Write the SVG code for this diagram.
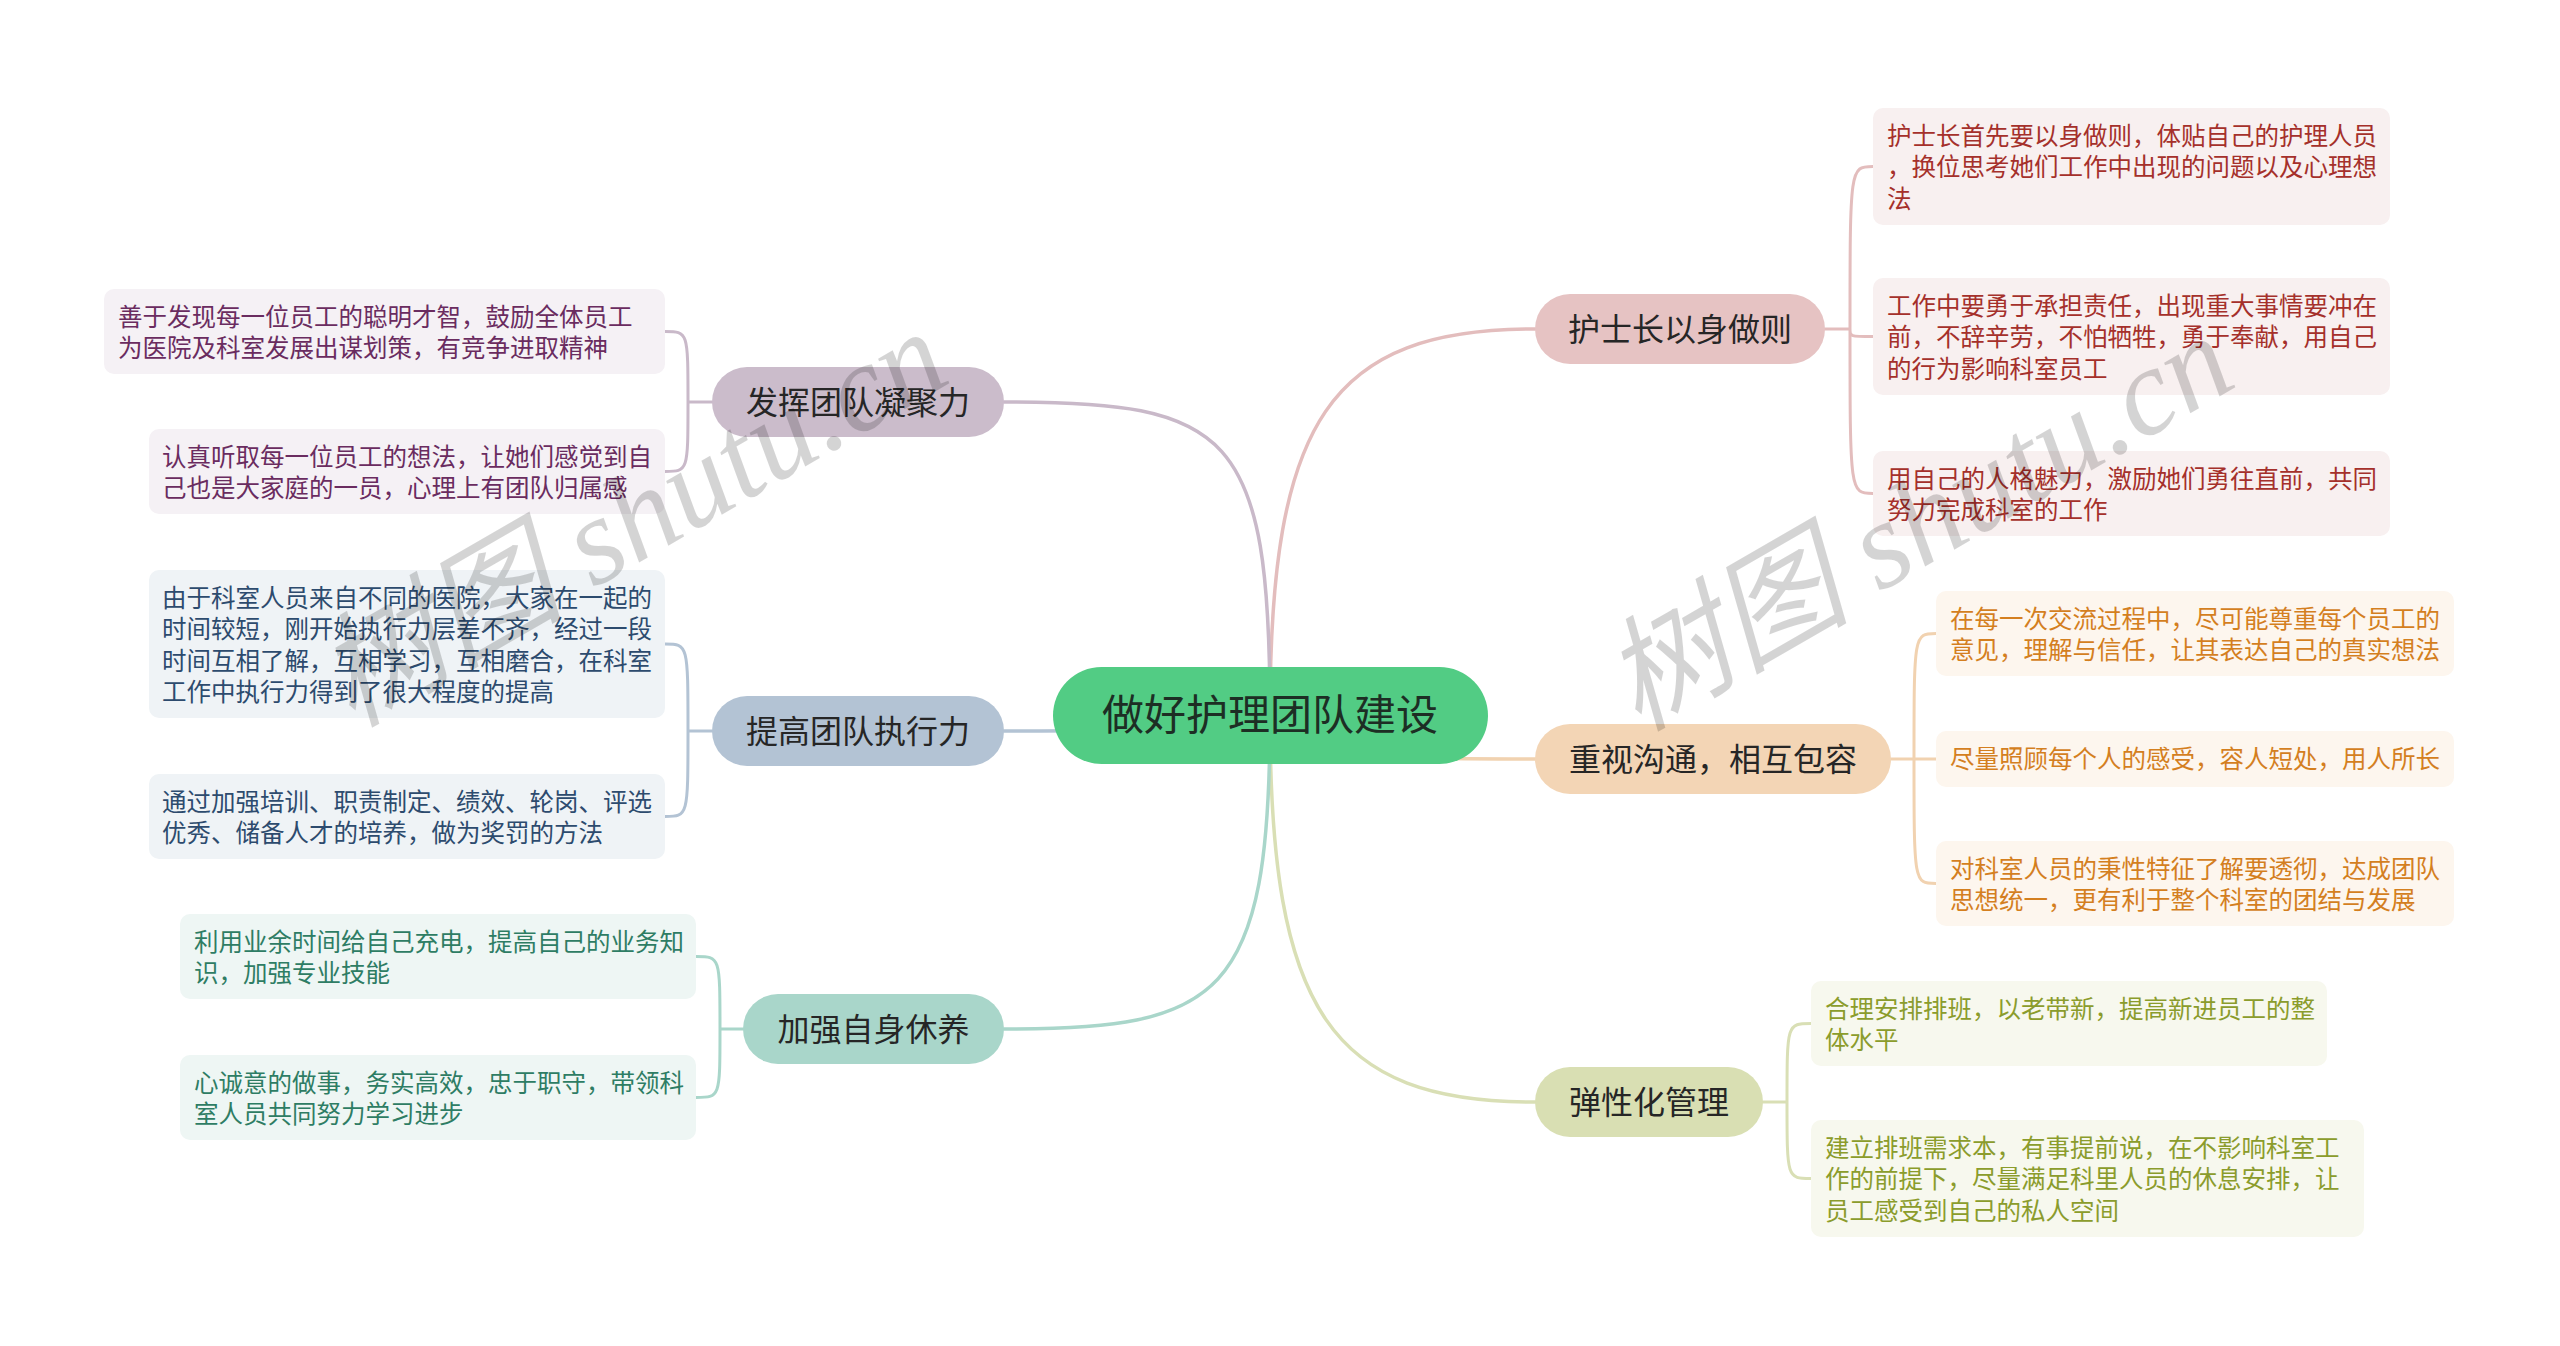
<svg xmlns="http://www.w3.org/2000/svg" width="2560" height="1346" viewBox="0 0 2560 1346">
<style>
text{font-family:"Noto Sans CJK SC","Noto Sans",sans-serif}
.root-t{font-size:42px;fill:#1d2e24;text-anchor:middle}
.main-t{font-size:32px;fill:#262626;text-anchor:middle}
.leaf-t{font-size:24.5px}
.c{fill:none;stroke-width:3.5;stroke-linecap:round}
.s{fill:none;stroke-width:3;stroke-linecap:round}
.wm{font-family:"Liberation Serif","Noto Sans CJK SC",serif;font-style:italic;font-size:124px;fill:#000;fill-opacity:0.17;text-anchor:middle}
.ca{stroke:#e3bdbd}.cb{stroke:#f1d2b0}.cc{stroke:#d9dfb5}.cd{stroke:#c9b9c9}.ce{stroke:#b3c3d4}.cf{stroke:#a9d6ca}
</style>
<rect width="2560" height="1346" fill="#ffffff"/>
<g id="connectors">
<path class="c ca" d="M1270,715 C1270,420 1330,329 1535,329"/>
<path class="c cb" d="M1270,715 C1300,759 1400,759 1535,759"/>
<path class="c cc" d="M1270,715 C1270,1010 1330,1102 1535,1102"/>
<path class="c cd" d="M1270,715 C1270,430 1230,402 1004,402"/>
<path class="c ce" d="M1270,715 C1240,731 1100,731 1004,731"/>
<path class="c cf" d="M1270,715 C1270,1000 1220,1029 1004,1029"/>
<path class="s ca" d="M1825,329 H1850 M1850,329 C1850,166.5 1850,166.5 1873,166.5 M1850,329 C1850,336.5 1850,336.5 1873,336.5 M1850,329 C1850,493.5 1850,493.5 1873,493.5"/>
<path class="s cb" d="M1891,759 H1914 M1914,759 C1914,633.5 1914,633.5 1936,633.5 M1914,759 H1936 M1914,759 C1914,883.5 1914,883.5 1936,883.5"/>
<path class="s cc" d="M1763,1102 H1787 M1787,1102 C1787,1023.5 1787,1023.5 1811,1023.5 M1787,1102 C1787,1178.5 1787,1178.5 1811,1178.5"/>
<path class="s cd" d="M712,402 H688 M688,402 C688,331.5 688,331.5 665,331.5 M688,402 C688,471.5 688,471.5 665,471.5"/>
<path class="s ce" d="M712,731 H688 M688,731 C688,644 688,644 665,644 M688,731 C688,816.5 688,816.5 665,816.5"/>
<path class="s cf" d="M743,1029 H720 M720,1029 C720,956.5 720,956.5 696,956.5 M720,1029 C720,1097.5 720,1097.5 696,1097.5"/>
</g>
<g id="root">
<rect x="1053" y="667" width="435" height="97" rx="48.5" fill="#52cc84"/>
<text class="root-t" x="1270" y="730">做好护理团队建设</text>
</g>
<g id="node-a">
<rect x="1535" y="294" width="290" height="70" rx="35" fill="#e6c3c3"/>
<text class="main-t" x="1680" y="340.5">护士长以身做则</text>
</g>
<g id="leaf-a1">
<rect x="1873" y="108" width="517" height="117" rx="10" fill="#f8f0f0"/>
<text class="leaf-t" fill="#a5302b"><tspan x="1887" y="144.75">护士长首先要以身做则，体贴自己的护理人员</tspan><tspan x="1887" y="176.25">，换位思考她们工作中出现的问题以及心理想</tspan><tspan x="1887" y="207.75">法</tspan></text>
</g>
<g id="leaf-a2">
<rect x="1873" y="278" width="517" height="117" rx="10" fill="#f8f0f0"/>
<text class="leaf-t" fill="#a5302b"><tspan x="1887" y="314.75">工作中要勇于承担责任，出现重大事情要冲在</tspan><tspan x="1887" y="346.25">前，不辞辛劳，不怕牺牲，勇于奉献，用自己</tspan><tspan x="1887" y="377.75">的行为影响科室员工</tspan></text>
</g>
<g id="leaf-a3">
<rect x="1873" y="451" width="517" height="85" rx="10" fill="#f8f0f0"/>
<text class="leaf-t" fill="#a5302b"><tspan x="1887" y="487.75">用自己的人格魅力，激励她们勇往直前，共同</tspan><tspan x="1887" y="519.25">努力完成科室的工作</tspan></text>
</g>
<g id="node-b">
<rect x="1535" y="724" width="356" height="70" rx="35" fill="#f3d5b5"/>
<text class="main-t" x="1713" y="770.5">重视沟通，相互包容</text>
</g>
<g id="leaf-b1">
<rect x="1936" y="591" width="518" height="85" rx="10" fill="#fdf6ee"/>
<text class="leaf-t" fill="#d47f1f"><tspan x="1950" y="627.75">在每一次交流过程中，尽可能尊重每个员工的</tspan><tspan x="1950" y="659.25">意见，理解与信任，让其表达自己的真实想法</tspan></text>
</g>
<g id="leaf-b2">
<rect x="1936" y="731" width="518" height="56" rx="10" fill="#fdf6ee"/>
<text class="leaf-t" fill="#d47f1f"><tspan x="1950" y="767.75">尽量照顾每个人的感受，容人短处，用人所长</tspan></text>
</g>
<g id="leaf-b3">
<rect x="1936" y="841" width="518" height="85" rx="10" fill="#fdf6ee"/>
<text class="leaf-t" fill="#d47f1f"><tspan x="1950" y="877.75">对科室人员的秉性特征了解要透彻，达成团队</tspan><tspan x="1950" y="909.25">思想统一，更有利于整个科室的团结与发展</tspan></text>
</g>
<g id="node-c">
<rect x="1535" y="1067" width="228" height="70" rx="35" fill="#d9dfb3"/>
<text class="main-t" x="1649" y="1113.5">弹性化管理</text>
</g>
<g id="leaf-c1">
<rect x="1811" y="981" width="516" height="85" rx="10" fill="#f7f8ee"/>
<text class="leaf-t" fill="#8b9c2c"><tspan x="1825" y="1017.75">合理安排排班，以老带新，提高新进员工的整</tspan><tspan x="1825" y="1049.25">体水平</tspan></text>
</g>
<g id="leaf-c2">
<rect x="1811" y="1120" width="553" height="117" rx="10" fill="#f7f8ee"/>
<text class="leaf-t" fill="#8b9c2c"><tspan x="1825" y="1156.75">建立排班需求本，有事提前说，在不影响科室工</tspan><tspan x="1825" y="1188.25">作的前提下，尽量满足科里人员的休息安排，让</tspan><tspan x="1825" y="1219.75">员工感受到自己的私人空间</tspan></text>
</g>
<g id="node-d">
<rect x="712" y="367" width="292" height="70" rx="35" fill="#cbbccb"/>
<text class="main-t" x="858" y="413.5">发挥团队凝聚力</text>
</g>
<g id="leaf-d1">
<rect x="104" y="289" width="561" height="85" rx="10" fill="#f5f1f5"/>
<text class="leaf-t" fill="#6a2c60"><tspan x="118" y="325.75">善于发现每一位员工的聪明才智，鼓励全体员工</tspan><tspan x="118" y="357.25">为医院及科室发展出谋划策，有竞争进取精神</tspan></text>
</g>
<g id="leaf-d2">
<rect x="149" y="429" width="516" height="85" rx="10" fill="#f5f1f5"/>
<text class="leaf-t" fill="#6a2c60"><tspan x="162" y="465.75">认真听取每一位员工的想法，让她们感觉到自</tspan><tspan x="162" y="497.25">己也是大家庭的一员，心理上有团队归属感</tspan></text>
</g>
<g id="node-e">
<rect x="712" y="696" width="292" height="70" rx="35" fill="#b3c3d4"/>
<text class="main-t" x="858" y="742.5">提高团队执行力</text>
</g>
<g id="leaf-e1">
<rect x="149" y="570" width="516" height="148" rx="10" fill="#eff3f6"/>
<text class="leaf-t" fill="#2d4b6e"><tspan x="162" y="606.75">由于科室人员来自不同的医院，大家在一起的</tspan><tspan x="162" y="638.25">时间较短，刚开始执行力层差不齐，经过一段</tspan><tspan x="162" y="669.75">时间互相了解，互相学习，互相磨合，在科室</tspan><tspan x="162" y="701.25">工作中执行力得到了很大程度的提高</tspan></text>
</g>
<g id="leaf-e2">
<rect x="149" y="774" width="516" height="85" rx="10" fill="#eff3f6"/>
<text class="leaf-t" fill="#2d4b6e"><tspan x="162" y="810.75">通过加强培训、职责制定、绩效、轮岗、评选</tspan><tspan x="162" y="842.25">优秀、储备人才的培养，做为奖罚的方法</tspan></text>
</g>
<g id="node-f">
<rect x="743" y="994" width="261" height="70" rx="35" fill="#a9d6ca"/>
<text class="main-t" x="873.5" y="1040.5">加强自身休养</text>
</g>
<g id="leaf-f1">
<rect x="180" y="914" width="516" height="85" rx="10" fill="#eef6f4"/>
<text class="leaf-t" fill="#2e7d64"><tspan x="194" y="950.75">利用业余时间给自己充电，提高自己的业务知</tspan><tspan x="194" y="982.25">识，加强专业技能</tspan></text>
</g>
<g id="leaf-f2">
<rect x="180" y="1055" width="516" height="85" rx="10" fill="#eef6f4"/>
<text class="leaf-t" fill="#2e7d64"><tspan x="194" y="1091.75">心诚意的做事，务实高效，忠于职守，带领科</tspan><tspan x="194" y="1123.25">室人员共同努力学习进步</tspan></text>
</g>
<g id="watermarks">
<text class="wm" transform="translate(632,518) rotate(-30)" x="0" y="42">树图 shutu.cn</text>
<text class="wm" transform="translate(1918,522) rotate(-30)" x="0" y="42">树图 shutu.cn</text>
</g>
</svg>
